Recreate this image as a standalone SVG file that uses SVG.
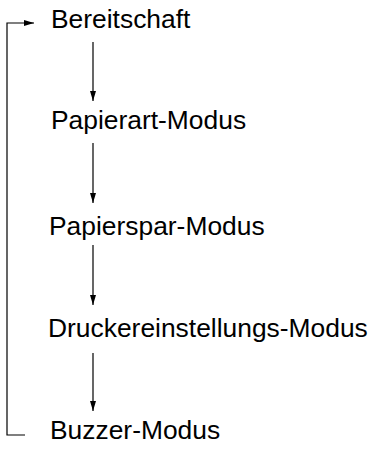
<svg xmlns="http://www.w3.org/2000/svg" width="377" height="449" viewBox="0 0 377 449">
<defs>
<marker id="ah" viewBox="0 0 10 6" refX="10" refY="3" markerWidth="10" markerHeight="6" markerUnits="userSpaceOnUse" orient="auto">
<path d="M0,0 L10,3 L0,6 Z" fill="#000"/>
</marker>
<style>
.lbl{font-family:"Liberation Sans",Arial,sans-serif;font-size:26.4px;fill:#000}
.c{fill:none;stroke:#000;stroke-width:1.2}
</style>
</defs>
<rect width="377" height="449" fill="#fff"/>
<g id="connectors">
<path class="c" d="M93,42 V101" marker-end="url(#ah)"/>
<path class="c" d="M93,143 V203" marker-end="url(#ah)"/>
<path class="c" d="M93,245 V305" marker-end="url(#ah)"/>
<path class="c" d="M93,353 V411" marker-end="url(#ah)"/>
<path class="c" d="M25,435 H7 V23 H34" marker-end="url(#ah)"/>
</g>
<g id="n1"><text class="lbl" x="51" y="28">Bereitschaft</text></g>
<g id="n2"><text class="lbl" x="51" y="129">Papierart-Modus</text></g>
<g id="n3"><text class="lbl" x="49" y="235">Papierspar-Modus</text></g>
<g id="n4"><text class="lbl" x="48" y="337">Druckereinstellungs-Modus</text></g>
<g id="n5"><text class="lbl" x="50" y="439">Buzzer-Modus</text></g>
</svg>
